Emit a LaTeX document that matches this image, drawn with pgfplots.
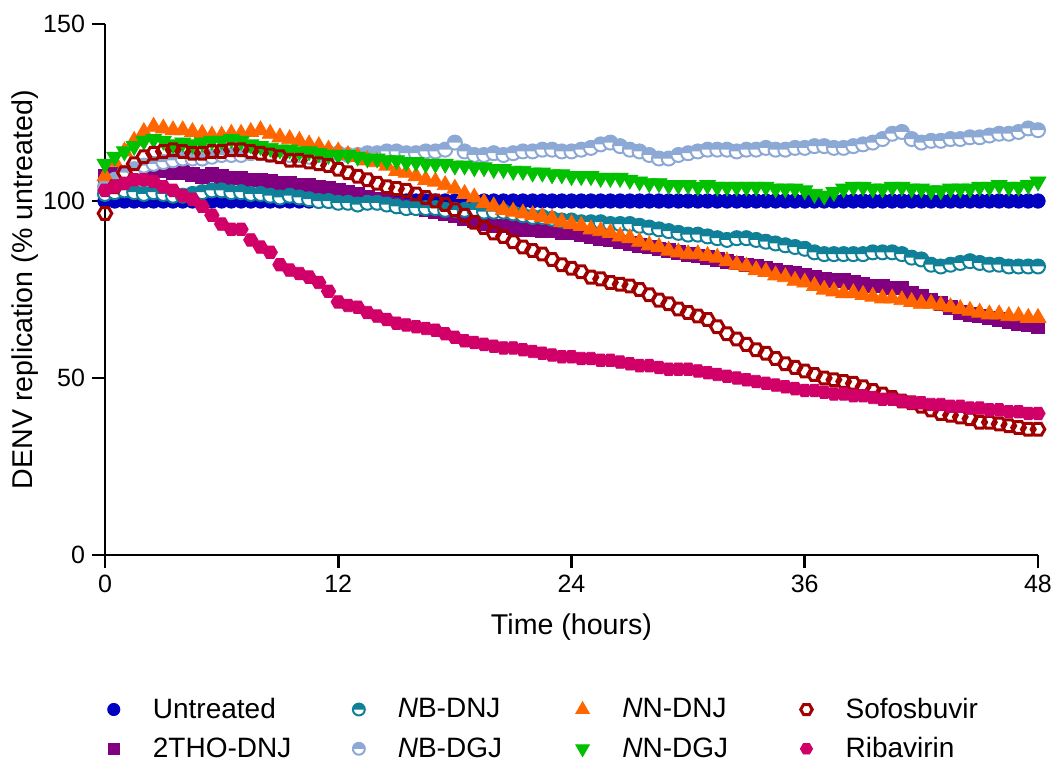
\documentclass[border=0pt]{standalone}
\usepackage{pgfplots}
\pgfplotsset{compat=1.18}
\usepackage{pgfplotstable}
\usepackage{fontspec}
\setmainfont{Liberation Sans}
\definecolor{cuntr}{RGB}{0,0,192}
\definecolor{cthod}{RGB}{128,0,128}
\definecolor{cnbdnj}{RGB}{16,128,152}
\definecolor{cnbdgj}{RGB}{140,168,212}
\definecolor{cnndnj}{RGB}{255,102,0}
\definecolor{cnndgj}{RGB}{0,192,0}
\definecolor{csof}{RGB}{160,0,0}
\definecolor{crib}{RGB}{208,0,104}
\pgfdeclareplotmark{halfteal}{%
  \pgfsetfillcolor{white}%
  \pgfpathcircle{\pgfpointorigin}{\pgfplotmarksize}\pgfusepathqfill
  \pgfsetfillcolor{cnbdnj}%
  \pgfpathmoveto{\pgfqpoint{\pgfplotmarksize}{0pt}}%
  \pgfpatharc{0}{180}{\pgfplotmarksize}\pgfpathclose\pgfusepathqfill
  \pgfpathcircle{\pgfpointorigin}{\pgfplotmarksize}\pgfusepathqstroke}
\pgfdeclareplotmark{halfblue}{%
  \pgfsetfillcolor{white}%
  \pgfpathcircle{\pgfpointorigin}{\pgfplotmarksize}\pgfusepathqfill
  \pgfsetfillcolor{cnbdgj}%
  \pgfpathmoveto{\pgfqpoint{\pgfplotmarksize}{0pt}}%
  \pgfpatharc{0}{180}{\pgfplotmarksize}\pgfpathclose\pgfusepathqfill
  \pgfpathcircle{\pgfpointorigin}{\pgfplotmarksize}\pgfusepathqstroke}
\pgfdeclareplotmark{hexo}{%
  \pgfpathmoveto{\pgfpointpolar{0}{\pgfplotmarksize}}%
  \pgfpathlineto{\pgfpointpolar{60}{\pgfplotmarksize}}%
  \pgfpathlineto{\pgfpointpolar{120}{\pgfplotmarksize}}%
  \pgfpathlineto{\pgfpointpolar{180}{\pgfplotmarksize}}%
  \pgfpathlineto{\pgfpointpolar{240}{\pgfplotmarksize}}%
  \pgfpathlineto{\pgfpointpolar{300}{\pgfplotmarksize}}%
  \pgfpathclose\pgfusepathqstroke}
\pgfdeclareplotmark{hexf}{%
  \pgfpathmoveto{\pgfpointpolar{0}{\pgfplotmarksize}}%
  \pgfpathlineto{\pgfpointpolar{60}{\pgfplotmarksize}}%
  \pgfpathlineto{\pgfpointpolar{120}{\pgfplotmarksize}}%
  \pgfpathlineto{\pgfpointpolar{180}{\pgfplotmarksize}}%
  \pgfpathlineto{\pgfpointpolar{240}{\pgfplotmarksize}}%
  \pgfpathlineto{\pgfpointpolar{300}{\pgfplotmarksize}}%
  \pgfpathclose\pgfusepathqfillstroke}
\pgfplotstableread{
t U T NBD NBG NND NNG S R
0 100 107 102 104 107 110.5 96.5 103
0.5 100 107.5 102.5 106 111 112.5 104 104
1 100 108 103 108 114 114 108 105
1.5 100 108.5 102.5 109 117 115.5 110.5 106
2 100 109 102 110 119.5 117 112.5 106
2.5 100 108.5 102.5 110.5 121 117.5 113.5 105.5
3 100 108.5 102 111 120.5 117 114 104
3.5 100 108 101.5 111.5 120 116 114.5 103
4 100 108 101.5 112 120 116.5 114 101.5
4.5 100 107.5 102 112 119.5 116 113.5 100.5
5 100 107 102.5 112 119 116.5 113.5 98.5
5.5 100 107.5 103 112.5 118.5 117 114 96
6 100 107 103 113 118.5 117 114 93.5
6.5 100 106.5 102.5 113 119 117.5 114.5 92
7 100 106.5 102.5 113 119 117 114.5 92
7.5 100 106 102 113.5 119.5 116 114 89
8 100 106 102 113.5 120 115.5 113.5 87
8.5 100 105.5 101.5 113 119 115 113 85.5
9 100 105 101 113 118 114.5 112.5 82
9.5 100 105 101.5 113 117.5 114.5 111.5 80.5
10 100 104.5 101 113 117 114 111.5 79.5
10.5 100 104.5 100.5 112.5 116 114 111 78.5
11 100 104 100 113 115.5 113.5 110.5 77
11.5 100 103.5 100 113.5 114.5 113 110 74.5
12 100 103 99.5 113.5 114 113 109 71.5
12.5 100 102.5 99.5 113 113 113 108 70.5
13 100 102 99 113 112.5 112.5 107 70
13.5 100 101 99.5 113.5 111.5 112 106 68.5
14 100 100.5 99.5 113.5 111 112 105 67.5
14.5 100 100 99 114 110 111.5 104 66.5
15 100 99 98.5 114 108.5 111.5 103.5 65.5
15.5 100 98.5 98 113.5 108 111 103 65
16 100 98 98 113.5 107 111 102 64.5
16.5 100 97.5 98 114 106 110.5 101 64
17 100 97 98 114 105.5 110.5 100 63.5
17.5 100 96.5 97.5 114.5 104.5 110.5 99 62.5
18 100 96 97.5 116.5 103.5 110 97.5 61.5
18.5 100 95 97.5 114 102 110 96 60.5
19 100 94.5 97.5 113 101 109.5 94 60
19.5 100 93.5 97 113 99.5 109.5 92.5 59.5
20 100 93 97 113.5 98.5 109 91 59
20.5 100 93 97 113 97.5 109 90 58.5
21 100 92.5 96.5 113.5 97 108.5 88.5 58.5
21.5 100 92 96 114 96.5 108.5 87 58
22 100 92 95.5 114 96 108 86 57.5
22.5 100 91.5 95.5 114.5 95.5 108 85 57
23 100 91.5 95 114.5 95 107.5 83.5 56.5
23.5 100 91 94.5 114 94 107.5 82 56
24 100 91 94.5 114 93.5 107 81 56
24.5 100 90.5 94 114.5 93 107 80 55.5
25 100 90 94 115 92 107 78.5 55.5
25.5 100 89.5 94 116 91.5 106.5 78 55
26 100 89 93.5 116.5 91 106.5 77 55
26.5 100 88.5 93.5 115.5 90 106.5 76.5 54.5
27 100 88 93.5 114.5 89.5 106 76 54
27.5 100 87.5 93 114 88.5 105.5 75 53.5
28 100 87 92.5 113 87.5 105 73.5 53.5
28.5 100 86.5 92 112 87 105 72 53
29 100 86 91.5 112 86 104.5 71 52.5
29.5 100 85.5 91 113 85.5 104.5 69.5 52.5
30 100 85 90.5 113.5 85 104.5 68.5 52.5
30.5 100 84.5 90.5 114 85 104 67.5 52
31 100 84 90 114.5 84.5 104.5 66.5 51.5
31.5 100 83.5 89.5 114.5 84 104 64.5 51
32 100 83 89 114.5 83 104 62.5 50.5
32.5 100 82.5 89.5 114 82 104 61 50
33 100 82 89.5 114.5 81.5 104 59.5 49.5
33.5 100 81.5 89 114.5 80.5 104 58 49
34 100 81 88.5 115 80 104 57 48.5
34.5 100 80.5 88 114.5 79 103.5 55.5 48
35 100 80 87.5 114.5 78.5 103.5 54 47.5
35.5 100 79.5 87 115 77.5 103.5 53 47
36 100 79 86.5 115 77 103 52 46.5
36.5 100 78.5 85.5 115.5 76 102 51 46.5
37 100 78 85 115.5 75 101.5 50 46
37.5 100 77.5 85 115 74.5 102.5 49.5 45.5
38 100 77.5 85 115 74 103.5 49 45.5
38.5 100 77 85 115.5 74 104 48.5 45
39 100 76.5 85 116 73.5 104 47.5 45
39.5 100 76 85.5 116.5 73 103.5 46.5 44.5
40 100 76 85.5 117.5 72.5 103.5 45.5 44
40.5 100 75.5 85.5 119 72.5 104 44.5 44
41 100 75.5 85 119.5 72 104 43.5 43.5
41.5 100 74 84 117.5 71.5 103.5 43 43
42 100 73 83.5 116.5 71 103.5 42 43
42.5 100 72 82 117 71 103 41 42.5
43 100 71 81.5 117 70.5 103 40 42.5
43.5 100 70 82 117.5 70 103.5 39.5 42
44 100 68.5 82.5 117.5 69.5 103.5 39 42
44.5 100 68 83 118 69 103.5 38.5 41.5
45 100 67.5 82.5 118 68.5 104 37.5 41.5
45.5 100 67 82 118.5 68 104 37.5 41
46 100 66.5 82 119 68 104.5 37 41
46.5 100 66 81.5 119 67.5 104 36.5 40.5
47 100 65.5 81.5 119.5 67.5 104 36 40.5
47.5 100 65 81.5 120.5 67 104.5 35.5 40
48 100 64.5 81.5 120 67 105.5 35.5 40
}\data
\begin{document}
\begin{tikzpicture}
\begin{axis}[
  name=ax,
  scale only axis,
  width=466.5pt, height=265.5pt,
  xmin=0, xmax=48, ymin=0, ymax=150,
  xtick={0,12,24,36,48}, ytick={0,50,100,150},
  axis x line*=bottom, axis y line*=left,
  axis line style={line width=1.4pt, -},
  tick align=outside,
  major tick length=6.5pt,
  every tick/.style={line width=1.4pt, black},
  tick label style={font=\fontsize{12.5}{15}\selectfont},
  /pgf/number format/assume math mode=true,
  xlabel={Time (hours)},
  ylabel={DENV replication (\% untreated)},
  xlabel style={font=\fontsize{14.3}{17}\selectfont, at={(axis description cs:0.5,-0.1356)}, anchor=center},
  ylabel style={font=\fontsize{14.3}{17}\selectfont, at={(axis description cs:-0.0857,0.5)}, anchor=center},
  clip=false,
  legend columns=2,
  transpose legend,
  legend style={draw=none, fill=none, at={(axis description cs:-0.004,-0.2532)}, anchor=north west,
    font=\fontsize{14}{16}\selectfont,
    /tikz/every odd column/.append style={column sep=14.5pt},
    row sep=4pt},
  legend image post style={/tikz/every mark/.append style={scale=0.85}},
  legend cell align=left,
]
\addplot[only marks, mark=*, mark size=3.6pt, color=cuntr] table[x=t,y=U]{\data};
\addlegendentry{\makebox[98pt][l]{Untreated}}
\addplot[only marks, mark=square*, mark size=3.4pt, color=cthod] table[x=t,y=T]{\data};
\addlegendentry{\makebox[98pt][l]{2THO-DNJ}}
\addplot[only marks, mark=halfteal, mark size=3.5pt, color=cnbdnj, mark options={line width=1pt}] table[x=t,y=NBD]{\data};
\addlegendentry{\makebox[87pt][l]{\textit{N}B-DNJ}}
\addplot[only marks, mark=halfblue, mark size=3.5pt, color=cnbdgj, mark options={line width=1pt}] table[x=t,y=NBG]{\data};
\addlegendentry{\makebox[87pt][l]{\textit{N}B-DGJ}}
\addplot[only marks, mark=triangle*, mark size=4.6pt, color=cnndnj] table[x=t,y=NND]{\data};
\addlegendentry{\makebox[87pt][l]{\textit{N}N-DNJ}}
\addplot[only marks, mark=triangle*, mark size=4.6pt, color=cnndgj, mark options={rotate=180}] table[x=t,y=NNG]{\data};
\addlegendentry{\makebox[87pt][l]{\textit{N}N-DGJ}}
\addplot[only marks, mark=hexo, mark size=3.4pt, color=csof, mark options={line width=1.5pt}] table[x=t,y=S]{\data};
\addlegendentry{\makebox[87pt][l]{Sofosbuvir}}
\addplot[only marks, mark=hexf, mark size=3.6pt, color=crib] table[x=t,y=R]{\data};
\addlegendentry{\makebox[87pt][l]{Ribavirin}}
\end{axis}
\pgfresetboundingbox
\path[use as bounding box] ([xshift=-52.5pt,yshift=-105.5pt]ax.south west) rectangle ([xshift=7.5pt,yshift=12pt]ax.north east);
\end{tikzpicture}
\end{document}
